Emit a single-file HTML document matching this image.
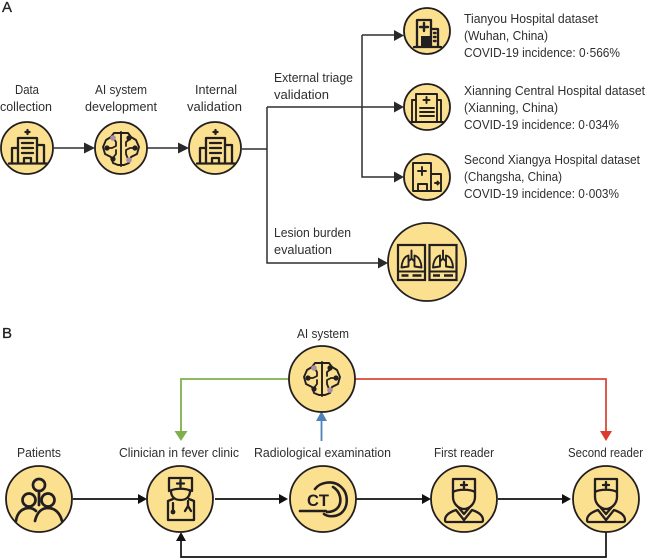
<!DOCTYPE html>
<html><head><meta charset="utf-8"><style>
html,body{margin:0;padding:0;background:#fff}
svg{display:block}
text{font-family:"Liberation Sans",sans-serif;font-size:13px;fill:#2e2e30}
.i{fill:none;stroke:#231f20;stroke-width:2.3;stroke-linejoin:round;stroke-linecap:round}
.c{fill:#fbe08f;stroke:#231f20;stroke-width:1.8}
.l{fill:none;stroke:#2f2f31;stroke-width:1.5}
</style></head><body>
<svg width="645" height="558" viewBox="0 0 645 558" xmlns="http://www.w3.org/2000/svg">
<defs>
<g id="hosp" class="i">
<path d="M-9 15V-10H10V15M-9 0H-15V15M10-3H17V15M-18 15.500H20"/>
<path d="M-5-5H6M-5 0H6M-5 5H6M-3 15V10H4V15"/>
<path d="M.5-14V-18M-1.500-16H2.500"/>
</g>
<g id="brain">
<path class="i" d="M0-17V17M0-16H-7L-10-12-15-9-18-2-16 5-10 8-8 14-3 16H0M0-16H7L10-12 15-9 18-2 16 5 10 8 8 14 3 16H0" style="stroke-width:1.900"/>
<path class="i" d="M-13-1H-9L-5-3V-7L-7-10M-5 1V5L-9 10M13-1H9L5 1V5L7 10M5-3V-7L9-10" style="stroke-width:1.800"/>
<circle cx="-14" cy="-1" r="2.600" fill="#231f20"/><circle cx="14" cy="-1" r="2.600" fill="#231f20"/>
<circle cx="-8" cy="10" r="2.600" fill="#231f20"/><circle cx="8" cy="-11" r="2.600" fill="#231f20"/>
<circle cx="-8" cy="-11" r="2.800" fill="#a891a8"/><circle cx="8" cy="11" r="2.800" fill="#a891a8"/>
</g>
<g id="lung">
<rect x="-13.500" y="-17.500" width="27" height="35" fill="none" stroke="#231f20" stroke-width="2.200"/>
<path class="i" style="stroke-width:1.900" d="M0-12V-4M0-4L-3-1M0-4L3-1M-3-7C-8-6-10 1-10 5L-3 4V-3ZM3-7C8-6 10 1 10 5L3 4V-3Z"/>
<path d="M-13 9H13" stroke="#231f20" stroke-width="2"/>
<path d="M-10 13H-3M1 13H10" stroke="#231f20" stroke-width="2.500"/>
</g>
<g id="reader">
<path class="i" d="M-11-21H11V-8C6-11-6-11-11-8Z"/>
<path class="i" d="M-11-8V-3C-11 4-5 9 0 9S11 4 11-3V-8"/>
<path class="i" d="M-8 10C-14 12-19 15-19 20-19 22-18 22-17 22H17C18 22 19 22 19 20 19 15 14 12 8 10L0 20ZM-5 8L0 14 5 8"/>
<path class="i" d="M0-18V-12M-3-15H3"/>
</g>
</defs>

<text x="2" y="12" style="font-size:15px;fill:#222;stroke:#222;stroke-width:.3">A</text>
<text x="2" y="338" style="font-size:15px;fill:#222;stroke:#222;stroke-width:.3">B</text>

<!-- Panel A connectors -->
<path class="l" d="M54 148H86M147 148H179M242 149H267M267 107V263H378M267 107H394M362 35V177H394M362 35H394"/>
<path fill="#2a2a2c" d="M84 142.500V153.500L95 148ZM178 142.500V153.500L189 148ZM394 30V41L404 35.500ZM394 101.500V112.500L404 107ZM394 171.500V182.500L404 177ZM378 257.500V268.500L388 263Z"/>

<!-- Panel A nodes -->
<circle class="c" cx="27" cy="148" r="26"/><use href="#hosp" x="27" y="148"/>
<circle class="c" cx="121" cy="148" r="26"/><use href="#brain" x="121" y="149"/>
<circle class="c" cx="215" cy="148" r="26"/><use href="#hosp" x="215" y="148"/>

<circle class="c" cx="427" cy="31" r="23"/>
<g class="i">
<path d="M414 47H441M417 47V20H431V47M431 29H438V47"/>
<path d="M424 23V31M420 27H428M434 33H435.500M434 37H435.500M434 41H435.500" style="stroke-width:2.400"/>
</g>
<rect x="421" y="36" width="9" height="11" fill="#231f20"/>

<circle class="c" cx="427" cy="107" r="23"/>
<g class="i" style="stroke-width:1.900">
<path d="M416 122V94H437V122M416 100H412V122H415M437 100H441V122H438M411 122H443"/>
<path d="M420 108H434M420 112H434M420 116H434M426.500 97V103M423.500 100H429.500"/>
</g>

<circle class="c" cx="427" cy="177" r="23"/>
<g class="i" style="stroke-width:1.900">
<path d="M413 191V163H431V191M431 174H441V191H413"/>
<path d="M422 167V175M418 171H426M418 191V184H427V191M435 183H439M437.500 181.500L439 183 437.500 184.500"/>
</g>

<circle class="c" cx="427" cy="262" r="39"/>
<use href="#lung" x="411.500" y="262.500"/>
<use href="#lung" x="443" y="262.500"/>

<!-- Panel A labels -->
<text x="15" y="94" textLength="24" lengthAdjust="spacingAndGlyphs">Data</text>
<text x="0" y="111" textLength="52" lengthAdjust="spacingAndGlyphs">collection</text>
<text x="95" y="94" textLength="52" lengthAdjust="spacingAndGlyphs">AI system</text>
<text x="85" y="111" textLength="72" lengthAdjust="spacingAndGlyphs">development</text>
<text x="195" y="94" textLength="42" lengthAdjust="spacingAndGlyphs">Internal</text>
<text x="187" y="111" textLength="55" lengthAdjust="spacingAndGlyphs">validation</text>
<text x="274" y="82" textLength="79" lengthAdjust="spacingAndGlyphs">External triage</text>
<text x="274" y="99" textLength="55" lengthAdjust="spacingAndGlyphs">validation</text>
<text x="274" y="237" textLength="77" lengthAdjust="spacingAndGlyphs">Lesion burden</text>
<text x="274" y="254" textLength="58" lengthAdjust="spacingAndGlyphs">evaluation</text>

<text x="464" y="23" textLength="134" lengthAdjust="spacingAndGlyphs">Tianyou Hospital dataset</text>
<text x="464" y="40" textLength="84" lengthAdjust="spacingAndGlyphs">(Wuhan, China)</text>
<text x="464" y="57" textLength="156" lengthAdjust="spacingAndGlyphs">COVID-19 incidence: 0·566%</text>
<text x="464" y="95" textLength="181" lengthAdjust="spacingAndGlyphs">Xianning Central Hospital dataset</text>
<text x="464" y="112" textLength="94" lengthAdjust="spacingAndGlyphs">(Xianning, China)</text>
<text x="464" y="129" textLength="155" lengthAdjust="spacingAndGlyphs">COVID-19 incidence: 0·034%</text>
<text x="464" y="164" textLength="176" lengthAdjust="spacingAndGlyphs">Second Xiangya Hospital dataset</text>
<text x="464" y="181" textLength="98" lengthAdjust="spacingAndGlyphs">(Changsha, China)</text>
<text x="464" y="198" textLength="155" lengthAdjust="spacingAndGlyphs">COVID-19 incidence: 0·003%</text>

<!-- Panel B connectors -->
<path fill="none" stroke="#7fb04f" stroke-width="1.800" d="M289 379H181V432"/>
<path fill="#7fb04f" d="M174.500 431H187.500L181 441Z"/>
<path fill="none" stroke="#d9483b" stroke-width="1.800" d="M355 379H606V432"/>
<path fill="#dc3a2e" d="M600 431H612L606 441Z"/>
<path fill="none" stroke="#4f81bd" stroke-width="1.800" d="M321.500 441V420"/>
<path fill="#4f81bd" d="M316 421H327L321.500 411Z"/>
<path fill="none" stroke="#111" stroke-width="1.700" d="M73 499H140M215 499H282M356 499H424M498 499H566M606 531V557H181V540"/>
<path fill="#111" d="M138 494V504L147 499ZM279 494V504L288 499ZM422 494V504L431 499ZM562 494V504L571 499ZM176 541H186L181 532Z"/>

<!-- Panel B nodes -->
<circle class="c" cx="322" cy="379" r="33"/><use href="#brain" x="322" y="379"/>

<circle class="c" cx="39" cy="499" r="33"/>
<g class="i" style="stroke-width:2.700">
<circle cx="39" cy="485" r="6"/><circle cx="29" cy="500" r="6.500"/><circle cx="48" cy="500" r="6.500"/>
<path d="M16 521C17 512 23 508 29 508 32 508 34 509 36 511M35 521C37 512 42 508 48 508 55 508 60 513 62 521M39 491V505"/>
</g>

<circle class="c" cx="180" cy="499" r="33"/>
<g class="i" style="stroke-width:2.300">
<path d="M169 478H192V491C185 488 176 488 169 491Z"/>
<path d="M180.500 480V487M177 483.500H184"/>
<path d="M171 491C171 496 174 500 180.500 500S190 496 190 491"/>
<path d="M168 501V520H194V501L189 499M168 501L173 499"/>
<path d="M173 503V510M188 501V506L185 511M188 506L191 511"/>
</g>
<circle cx="173" cy="512" r="2.400" fill="#231f20"/>

<circle class="c" cx="323" cy="499" r="33"/>
<g class="i" style="stroke-width:2.600">
<path d="M315 489C320 482 333 480 340 486 349 493 349 508 340 514 335 517 328 517 324 514"/>
<path d="M333 487C340 491 342 500 339 506 336 511 331 512 327 512"/>
<path d="M300 511H326"/>
</g>
<text x="307" y="506" style="font-size:17px;font-weight:bold;fill:#231f20" textLength="22" lengthAdjust="spacingAndGlyphs">CT</text>

<circle class="c" cx="464" cy="499" r="33"/><use href="#reader" x="464" y="500"/>
<circle class="c" cx="606" cy="499" r="33"/><use href="#reader" x="606" y="500"/>

<!-- Panel B labels -->
<text x="297" y="338" textLength="52" lengthAdjust="spacingAndGlyphs">AI system</text>
<text x="17" y="457" textLength="44" lengthAdjust="spacingAndGlyphs">Patients</text>
<text x="119" y="457" textLength="120" lengthAdjust="spacingAndGlyphs">Clinician in fever clinic</text>
<text x="254" y="457" textLength="137" lengthAdjust="spacingAndGlyphs">Radiological examination</text>
<text x="434" y="457" textLength="60" lengthAdjust="spacingAndGlyphs">First reader</text>
<text x="568" y="457" textLength="75" lengthAdjust="spacingAndGlyphs">Second reader</text>
</svg>
</body></html>
